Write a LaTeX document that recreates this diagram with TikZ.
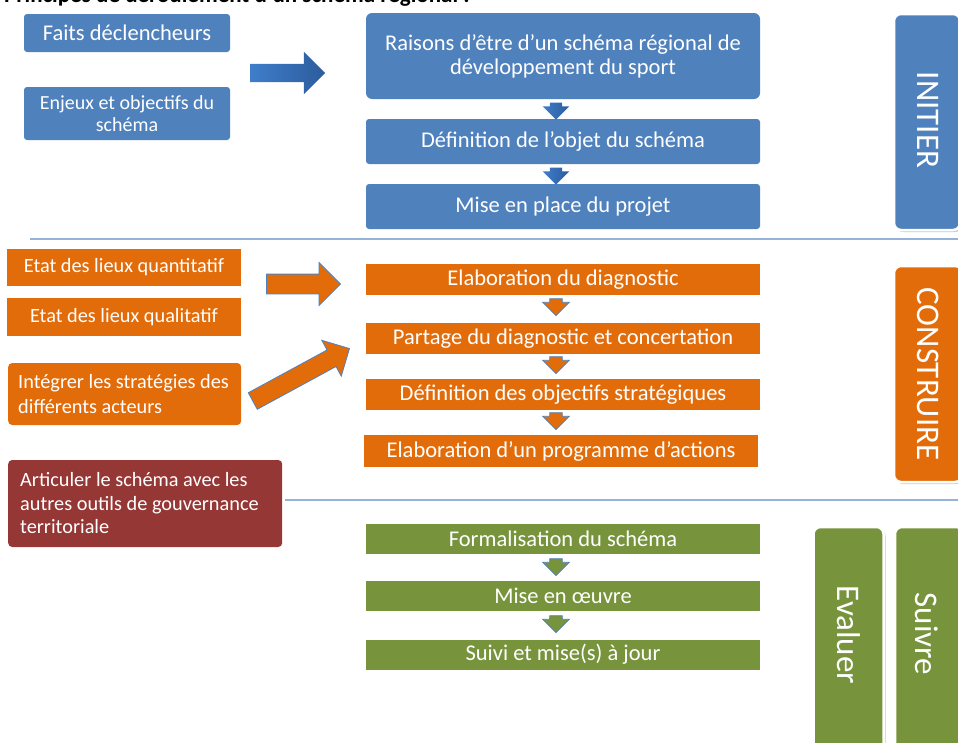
\documentclass[tikz,border=0pt]{standalone}
\usepackage{fontspec}
\setmainfont{Carlito}
\usetikzlibrary{shapes.arrows,shadows}
\definecolor{cblue}{HTML}{4F81BD}
\definecolor{cblueA}{HTML}{3F7DCB}
\definecolor{cblueB}{HTML}{2C5C9C}
\definecolor{corange}{HTML}{E36C0A}
\definecolor{cred}{HTML}{953735}
\definecolor{cgreen}{HTML}{77933C}
\definecolor{cline}{HTML}{95B3D7}
\tikzset{
  box/.style={inner sep=2pt, text=white, font=\fontsize{22.5}{24}\selectfont, align=center},
  lbox/.style={inner sep=2pt, text=white, font=\fontsize{20.3}{24}\selectfont},
  bluebox/.style={box, fill=cblue, rounded corners=3pt},
  orangebox/.style={box, fill=corange},
  greenbox/.style={box, fill=cgreen},
  phase/.style={draw=white, line width=2.5pt, rounded corners=7pt,
    drop shadow={shadow xshift=2pt, shadow yshift=-2pt, opacity=0.35, fill=black!60}},
  phasetext/.style={rotate=-90, text=white, font=\fontsize{33}{36}\selectfont},
  bigarrow/.style={single arrow, inner xsep=0pt, inner ysep=9pt, single arrow head extend=12pt},
  smallarrow/.style={single arrow, inner xsep=0pt, inner ysep=6pt, single arrow head extend=7pt, minimum height=17pt, rotate=-90},
  sep/.style={draw=cline, line width=1.2pt}
}
\begin{document}
\begin{tikzpicture}[x=1pt,y=-1pt]
\useasboundingbox (0,0) rectangle (958,742);
% cut title
\node[anchor=base west, inner sep=0pt, font=\fontsize{23}{25}\selectfont\bfseries] (title) at (4,2) {Principes de déroulement d’un schéma régional :};

% ---- INITIER ----
\node[bluebox, minimum width=206pt, minimum height=38pt] (faits) at (127,33) {Faits déclencheurs};
\node[bluebox, minimum width=206pt, minimum height=53pt, font=\fontsize{20}{22}\selectfont] (enjeux) at (127,113.5) {Enjeux et objectifs du\\schéma};
\node[bigarrow, minimum height=75pt, shading=axis, left color=cblueA, right color=cblueB, shading angle=90] (barrow) at (283,73) {};

\node[bluebox, rounded corners=6pt, minimum width=394pt, minimum height=86pt] (raisons) at (563,56) {Raisons d’être d’un schéma régional de\\développement du sport};
\node[bluebox, minimum width=394pt, minimum height=45pt] (objet) at (563,141.5) {Définition de l’objet du schéma};
\node[bluebox, minimum width=394pt, minimum height=45pt] (place) at (563,206.5) {Mise en place du projet};
\node[smallarrow, shading=axis, left color=cblueA, right color=cblueB] (a1) at (556,108) {};
\node[smallarrow, shading=axis, left color=cblueA, right color=cblueB] (a2) at (556,173) {};

\node[phase, fill=cblue, minimum width=66pt, minimum height=216pt] (initier) at (927,122) {};
\node[phasetext] (initiert) at (928,120) {INITIER};

\coordinate (s1a) at (30,239);
\coordinate (s1b) at (958,239);
\draw[sep] (s1a) -- (s1b);

% ---- CONSTRUIRE ----
\node[orangebox, lbox, minimum width=234pt, minimum height=37pt] (quanti) at (124,267.5) {Etat des lieux quantitatif};
\node[orangebox, lbox, minimum width=234pt, minimum height=38pt] (quali) at (124,317) {Etat des lieux qualitatif};
\node[lbox, fill=corange, rounded corners=4pt, anchor=west, inner xsep=10pt, text width=213pt, minimum height=62pt, align=flush left, font=\fontsize{20.3}{25}\selectfont] (integrer) at (8,394) {Intégrer les stratégies des\\différents acteurs};
\node[bigarrow, minimum height=74pt, fill=corange, draw=cblue, line width=0.8pt, inner ysep=9.5pt, single arrow head extend=11.5pt] (oarrow1) at (298.5,284) {};
\node[bigarrow, minimum height=110pt, fill=corange, draw=cblue, line width=0.8pt, inner ysep=9pt, single arrow head extend=11pt, rotate=28.5] (oarrow2) at (297,377) {};

\node[orangebox, minimum width=394pt, minimum height=31pt] (diag) at (563,279.5) {Elaboration du diagnostic};
\node[orangebox, minimum width=394pt, minimum height=31pt] (partage) at (563,338.5) {Partage du diagnostic et concertation};
\node[orangebox, minimum width=394pt, minimum height=31pt] (objectifs) at (563,394.5) {Définition des objectifs stratégiques};
\node[orangebox, minimum width=394pt, minimum height=32pt] (programme) at (561,451) {Elaboration d’un programme d’actions};
\node[smallarrow, fill=corange, draw=cblue, line width=0.7pt] (a3) at (556,304) {};
\node[smallarrow, fill=corange, draw=cblue, line width=0.7pt] (a4) at (556,362) {};
\node[smallarrow, fill=corange, draw=cblue, line width=0.7pt] (a5) at (556,418) {};

\node[phase, fill=corange, minimum width=68pt, minimum height=216pt] (construire) at (928,374) {};
\node[phasetext] (construiret) at (928,374) {CONSTRUIRE};

\coordinate (s2a) at (285,500);
\coordinate (s2b) at (958,500);
\draw[sep] (s2a) -- (s2b);

\node[lbox, fill=cred, rounded corners=4pt, anchor=west, inner xsep=12pt, text width=250pt, minimum height=87pt, align=flush left, font=\fontsize{20.3}{23.5}\selectfont] (articuler) at (8,503.5) {Articuler le schéma avec les\\autres outils de gouvernance\\territoriale};

% ---- SUIVRE / EVALUER ----
\node[greenbox, minimum width=394pt, minimum height=30pt] (formal) at (563,539) {Formalisation du schéma};
\node[greenbox, minimum width=394pt, minimum height=30pt] (oeuvre) at (563,596) {Mise en œuvre};
\node[greenbox, minimum width=394pt, minimum height=30pt] (suivi) at (563,654.5) {Suivi et mise(s) à jour};
\node[smallarrow, fill=cgreen, draw=cblue, line width=0.7pt] (a6) at (556,564) {};
\node[smallarrow, fill=cgreen, draw=cblue, line width=0.7pt] (a7) at (556,621) {};

\node[phase, fill=cgreen, minimum width=70pt, minimum height=226pt] (evaluer) at (848.5,640) {};
\node[phasetext] (evaluert) at (849,635) {Evaluer};
\node[phase, fill=cgreen, minimum width=68pt, minimum height=226pt] (suivre) at (929,640) {};
\node[phasetext] (suivret) at (927,634) {Suivre};
\end{tikzpicture}
\end{document}
